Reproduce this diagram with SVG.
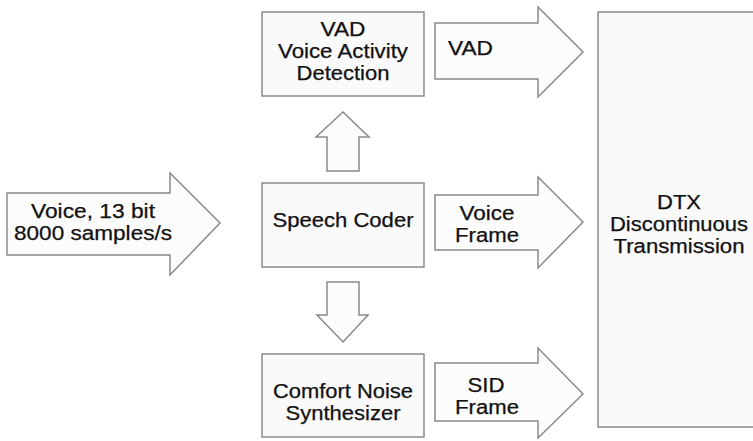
<svg xmlns="http://www.w3.org/2000/svg" width="753" height="441" viewBox="0 0 753 441">
<style>
.box{fill:#fafafa;stroke:#8a8a8a;stroke-width:1.5}
.arr{fill:#fcfcfc;stroke:#8a8a8a;stroke-width:1.5;stroke-linejoin:miter}
text{font-family:"Liberation Sans",Arial,sans-serif;font-size:19.6px;fill:#111111;text-anchor:middle;stroke:#111111;stroke-width:0.25}
</style>
<rect width="753" height="441" fill="#ffffff"/>
<g id="connectors">
<path class="arr" d="M7,193 H170 V173 L220,223 L170,275 V255 H7 Z"/>
<path class="arr" d="M327,171 V137 H316 L343,112 L369,137 H359 V171 Z"/>
<path class="arr" d="M327,282 V315 H317 L343,342 L368,315 H359 V282 Z"/>
<path class="arr" d="M435,23 H538 V7 L583,52 L538,97 V79 H435 Z"/>
<path class="arr" d="M435,195 H538 V177 L583,222 L538,268 V250 H435 Z"/>
<path class="arr" d="M435,363 H538 V348 L583,394 L538,438 V421 H435 Z"/>
<text><tspan x="93" y="218" textLength="124" lengthAdjust="spacingAndGlyphs">Voice, 13 bit</tspan><tspan x="93" y="240" textLength="158" lengthAdjust="spacingAndGlyphs">8000 samples/s</tspan></text>
<text x="448" y="55" style="text-anchor:start" textLength="45" lengthAdjust="spacingAndGlyphs">VAD</text>
<text><tspan x="487" y="220" textLength="55" lengthAdjust="spacingAndGlyphs">Voice</tspan><tspan x="487" y="242" textLength="64" lengthAdjust="spacingAndGlyphs">Frame</tspan></text>
<text><tspan x="486" y="392" textLength="37" lengthAdjust="spacingAndGlyphs">SID</tspan><tspan x="487" y="414" textLength="64" lengthAdjust="spacingAndGlyphs">Frame</tspan></text>
</g>
<g id="vad">
<rect class="box" x="262" y="12" width="162" height="84"/>
<text><tspan x="343" y="36" textLength="45" lengthAdjust="spacingAndGlyphs">VAD</tspan><tspan x="343" y="58" textLength="130" lengthAdjust="spacingAndGlyphs">Voice Activity</tspan><tspan x="343" y="80" textLength="93" lengthAdjust="spacingAndGlyphs">Detection</tspan></text>
</g>
<g id="speech">
<rect class="box" x="262" y="183" width="162" height="84"/>
<text x="343" y="227" textLength="141" lengthAdjust="spacingAndGlyphs">Speech Coder</text>
</g>
<g id="comfort">
<rect class="box" x="262" y="354" width="162" height="83"/>
<text><tspan x="343" y="398" textLength="140" lengthAdjust="spacingAndGlyphs">Comfort Noise</tspan><tspan x="343" y="420" textLength="115" lengthAdjust="spacingAndGlyphs">Synthesizer</tspan></text>
</g>
<g id="dtx">
<rect class="box" x="598" y="12" width="160" height="415"/>
<text><tspan x="679" y="209" textLength="44" lengthAdjust="spacingAndGlyphs">DTX</tspan><tspan x="679" y="231" textLength="138" lengthAdjust="spacingAndGlyphs">Discontinuous</tspan><tspan x="679" y="253" textLength="131" lengthAdjust="spacingAndGlyphs">Transmission</tspan></text>
</g>
</svg>
